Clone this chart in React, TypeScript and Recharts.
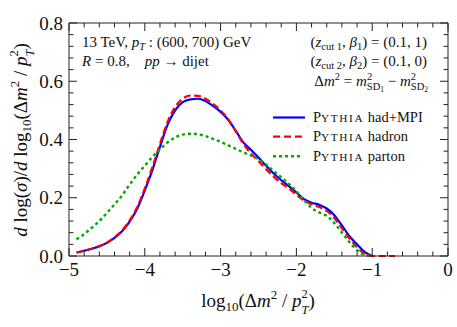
import React from "react";
import { LineChart, Line, XAxis, YAxis, ReferenceLine } from "recharts";

const xValues = [-4.9, -4.8, -4.7, -4.6, -4.5, -4.4, -4.3, -4.2, -4.1, -4.0, -3.9, -3.8, -3.7, -3.6, -3.5, -3.4, -3.3, -3.2, -3.1, -3.0, -2.9, -2.8, -2.7, -2.6, -2.5, -2.4, -2.3, -2.2, -2.1, -2.0, -1.9, -1.8, -1.7, -1.6, -1.5, -1.4, -1.3, -1.2, -1.1, -1.0, -0.9, -0.8, -0.7];
const hadMpi = [0.012, 0.018, 0.025, 0.033, 0.045, 0.062, 0.085, 0.118, 0.162, 0.225, 0.295, 0.375, 0.45, 0.5, 0.528, 0.538, 0.54, 0.532, 0.515, 0.495, 0.468, 0.43, 0.39, 0.365, 0.338, 0.31, 0.283, 0.26, 0.24, 0.218, 0.195, 0.183, 0.176, 0.163, 0.14, 0.105, 0.068, 0.04, 0.014, 0, null, null, null];
const hadron = [0.012, 0.018, 0.025, 0.034, 0.046, 0.064, 0.088, 0.122, 0.168, 0.232, 0.305, 0.385, 0.46, 0.512, 0.54, 0.551, 0.55, 0.54, 0.522, 0.5, 0.47, 0.428, 0.385, 0.352, 0.326, 0.298, 0.272, 0.25, 0.232, 0.21, 0.19, 0.178, 0.168, 0.155, 0.13, 0.095, 0.06, 0.03, 0.008, 0, 0, 0, 0];
const parton = [0.057, 0.075, 0.097, 0.12, 0.148, 0.177, 0.208, 0.245, 0.28, 0.31, 0.34, 0.366, 0.39, 0.407, 0.417, 0.42, 0.418, 0.412, 0.402, 0.392, 0.38, 0.368, 0.356, 0.345, 0.333, 0.314, 0.292, 0.27, 0.248, 0.222, 0.192, 0.165, 0.15, 0.138, 0.113, 0.08, 0.048, 0.02, 0.004, 0, null, null, null];

const xMajorTicks = [-5, -4, -3, -2, -1, 0];
const xTickLabels = ["\u22125", "\u22124", "\u22123", "\u22122", "\u22121", "0"];
const xAllTicks = [-5, -4.8, -4.6, -4.4, -4.2, -4, -3.8, -3.6, -3.4, -3.2, -3, -2.8, -2.6, -2.4, -2.2, -2, -1.8, -1.6, -1.4, -1.2, -1, -0.8, -0.6, -0.4, -0.2, 0];
const yMajorTicks = [0, 0.2, 0.4, 0.6, 0.8];
const yTickLabels = ["0.0", "0.2", "0.4", "0.6", "0.8"];
const yAllTicks = [0, 0.04, 0.08, 0.12, 0.16, 0.2, 0.24, 0.28, 0.32, 0.36, 0.4, 0.44, 0.48, 0.52, 0.56, 0.6, 0.64, 0.68, 0.72, 0.76, 0.8];

const data = xValues.map((x, i) => ({ x, mpi: hadMpi[i], hadron: hadron[i], parton: parton[i] }));

const W = 457;
const H = 327;
const LEFT = 69;
const RIGHT = 448;
const TOP = 23;
const BOTTOM = 256;
const AX_L = 30;
const AX_B = 30;
const M = { top: TOP, right: W - RIGHT, bottom: H - BOTTOM - AX_B, left: LEFT - AX_L };
const FONT = "'Liberation Serif', 'Times New Roman', serif";
const AXC = "#222";
const MAJ = 8;
const MIN = 4.5;

const near = (a: number, b: number) => Math.abs(a - b) < 1e-6;
const majorIndex = (arr: number[], v: number) => arr.findIndex((m) => near(m, v));

const BottomTick = (props: any) => {
  const { x, payload } = props;
  const idx = majorIndex(xMajorTicks, payload.value);
  const len = idx >= 0 ? MAJ : MIN;
  return (
    <g>
      <line x1={x} x2={x} y1={BOTTOM} y2={BOTTOM - len} stroke={AXC} strokeWidth={1} />
      <line x1={x} x2={x} y1={TOP} y2={TOP + len} stroke={AXC} strokeWidth={1} />
      {idx >= 0 && (
        <text x={x} y={BOTTOM + 19.5} textAnchor="middle" style={{ fontFamily: FONT }} fontSize={19} fill="#111">
          {xTickLabels[idx]}
        </text>
      )}
    </g>
  );
};
const LeftTick = (props: any) => {
  const { y, payload } = props;
  const idx = majorIndex(yMajorTicks, payload.value);
  const len = idx >= 0 ? MAJ : MIN;
  return (
    <g>
      <line x1={LEFT} x2={LEFT + len} y1={y} y2={y} stroke={AXC} strokeWidth={1} />
      <line x1={RIGHT} x2={RIGHT - len} y1={y} y2={y} stroke={AXC} strokeWidth={1} />
      {idx >= 0 && (
        <text x={LEFT - 6} y={y + 6.5} textAnchor="end" style={{ fontFamily: FONT }} fontSize={19} fill="#111">
          {yTickLabels[idx]}
        </text>
      )}
    </g>
  );
};

const Pythia = ({ size }: { size: number }) => (
  <>
    <tspan fontSize={size}>P</tspan>
    <tspan fontSize={size * 0.78} letterSpacing={1.6}>YTHIA</tspan>
  </>
);

const Overlay = () => {
  const fs = 15;
  const lfs = 14.5;
  const sub = 10.5;
  const legY = [117.5, 136.7, 156.2];
  return (
    <svg width={W} height={H} style={{ position: "absolute", left: 0, top: 0, pointerEvents: "none", fontFamily: FONT }}>
      <g fill="#111">
        <text x={82} y={47} fontSize={fs}>
          13 TeV,{" "}
          <tspan fontStyle="italic">p</tspan>
          <tspan fontStyle="italic" fontSize={sub} dy={3}>T</tspan>
          <tspan dy={-3}> : (600, 700) GeV</tspan>
        </text>
        <text x={82} y={66} fontSize={fs} xmlSpace="preserve">
          <tspan fontStyle="italic">R</tspan>
          <tspan> = 0.8,    </tspan>
          <tspan fontStyle="italic">pp</tspan>
          <tspan> → dijet</tspan>
        </text>

        <text x={427} y={47} fontSize={fs} textAnchor="end">
          (<tspan fontStyle="italic">z</tspan>
          <tspan fontSize={sub} dy={3}>cut 1</tspan>
          <tspan dy={-3}>, </tspan>
          <tspan fontStyle="italic">β</tspan>
          <tspan fontSize={sub} dy={3}>1</tspan>
          <tspan dy={-3}>) = (0.1, 1)</tspan>
        </text>
        <text x={427} y={66} fontSize={fs} textAnchor="end">
          (<tspan fontStyle="italic">z</tspan>
          <tspan fontSize={sub} dy={3}>cut 2</tspan>
          <tspan dy={-3}>, </tspan>
          <tspan fontStyle="italic">β</tspan>
          <tspan fontSize={sub} dy={3}>2</tspan>
          <tspan dy={-3}>) = (0.1, 0)</tspan>
        </text>
        <text x={428} y={86} fontSize={fs} textAnchor="end">
          Δ<tspan fontStyle="italic">m</tspan>
          <tspan fontSize={sub} dy={-6}>2</tspan>
          <tspan dy={6}> = </tspan>
          <tspan fontStyle="italic">m</tspan>
          <tspan fontSize={sub} dy={-6}>2</tspan>
          <tspan fontSize={sub} dx={-5.3} dy={10}>SD</tspan>
          <tspan fontSize={7.5} dy={2}>1</tspan>
          <tspan dy={-6}> − </tspan>
          <tspan fontStyle="italic">m</tspan>
          <tspan fontSize={sub} dy={-6}>2</tspan>
          <tspan fontSize={sub} dx={-5.3} dy={10}>SD</tspan>
          <tspan fontSize={7.5} dy={2}>2</tspan>
        </text>

        <line x1={273} x2={305} y1={legY[0]} y2={legY[0]} stroke="#0000ff" strokeWidth={2.2} />
        <line x1={273} x2={303} y1={legY[1]} y2={legY[1]} stroke="#ff0000" strokeWidth={2.2} strokeDasharray="7 4" />
        <line x1={273} x2={303} y1={legY[2]} y2={legY[2]} stroke="#00aa00" strokeWidth={2.4} strokeDasharray="3 3" />
        <text x={313} y={legY[0] + 4.5} fontSize={lfs}>
          <Pythia size={lfs} /> had+MPI
        </text>
        <text x={313} y={legY[1] + 4.5} fontSize={lfs}>
          <Pythia size={lfs} /> hadron
        </text>
        <text x={313} y={legY[2] + 4.5} fontSize={lfs}>
          <Pythia size={lfs} /> parton
        </text>

        <text x={258} y={307} fontSize={19} textAnchor="middle">
          log<tspan fontSize={13} dy={4}>10</tspan>
          <tspan dy={-4}>(Δ</tspan>
          <tspan fontStyle="italic">m</tspan>
          <tspan fontSize={13} dy={-8}>2</tspan>
          <tspan dy={8}> / </tspan>
          <tspan fontStyle="italic">p</tspan>
          <tspan fontSize={12.5} dy={-9}>2</tspan>
          <tspan fontSize={12.5} fontStyle="italic" dx={-6.3} dy={15.5}>T</tspan>
          <tspan dy={-6.5}>)</tspan>
        </text>

        <g transform="translate(27, 140) rotate(-90)">
          <text x={0} y={0} fontSize={19} textAnchor="middle">
            <tspan fontStyle="italic">d</tspan>
            <tspan> log(</tspan>
            <tspan fontStyle="italic">σ</tspan>
            <tspan>)/</tspan>
            <tspan fontStyle="italic">d</tspan>
            <tspan> log</tspan>
            <tspan fontSize={13} dy={4}>10</tspan>
            <tspan dy={-4}>(Δ</tspan>
            <tspan fontStyle="italic">m</tspan>
            <tspan fontSize={13} dy={-8}>2</tspan>
            <tspan dy={8}> / </tspan>
            <tspan fontStyle="italic">p</tspan>
            <tspan fontSize={12.5} dy={-9}>2</tspan>
            <tspan fontSize={12.5} fontStyle="italic" dx={-6.3} dy={15.5}>T</tspan>
            <tspan dy={-6.5}>)</tspan>
          </text>
        </g>
      </g>
    </svg>
  );
};

export default function App() {
  return (
    <div style={{ position: "absolute", left: 0, top: 0, width: W, height: H, background: "#fff" }}>
      <LineChart width={W} height={H} data={data} margin={M}>
        <XAxis
          dataKey="x"
          type="number"
          domain={[-5, 0]}
          ticks={xAllTicks}
          interval={0}
          height={AX_B}
          tickLine={false}
          tick={<BottomTick />}
          axisLine={{ stroke: AXC, strokeWidth: 1 }}
        />
        <YAxis
          type="number"
          domain={[0, 0.8]}
          ticks={yAllTicks}
          interval={0}
          width={AX_L}
          tickLine={false}
          tick={<LeftTick />}
          axisLine={{ stroke: AXC, strokeWidth: 1 }}
        />
        <ReferenceLine y={0.8} stroke={AXC} strokeWidth={1} />
        <ReferenceLine x={0} stroke={AXC} strokeWidth={1} />
        <Line dataKey="mpi" type="monotone" stroke="#0000ff" strokeWidth={2.2} dot={false} isAnimationActive={false} />
        <Line dataKey="hadron" type="monotone" stroke="#ff0000" strokeWidth={2.2} strokeDasharray="7 3.5" dot={false} isAnimationActive={false} />
        <Line dataKey="parton" type="monotone" stroke="#00aa00" strokeWidth={2.4} strokeDasharray="3 3" dot={false} isAnimationActive={false} />
      </LineChart>
      <Overlay />
    </div>
  );
}
